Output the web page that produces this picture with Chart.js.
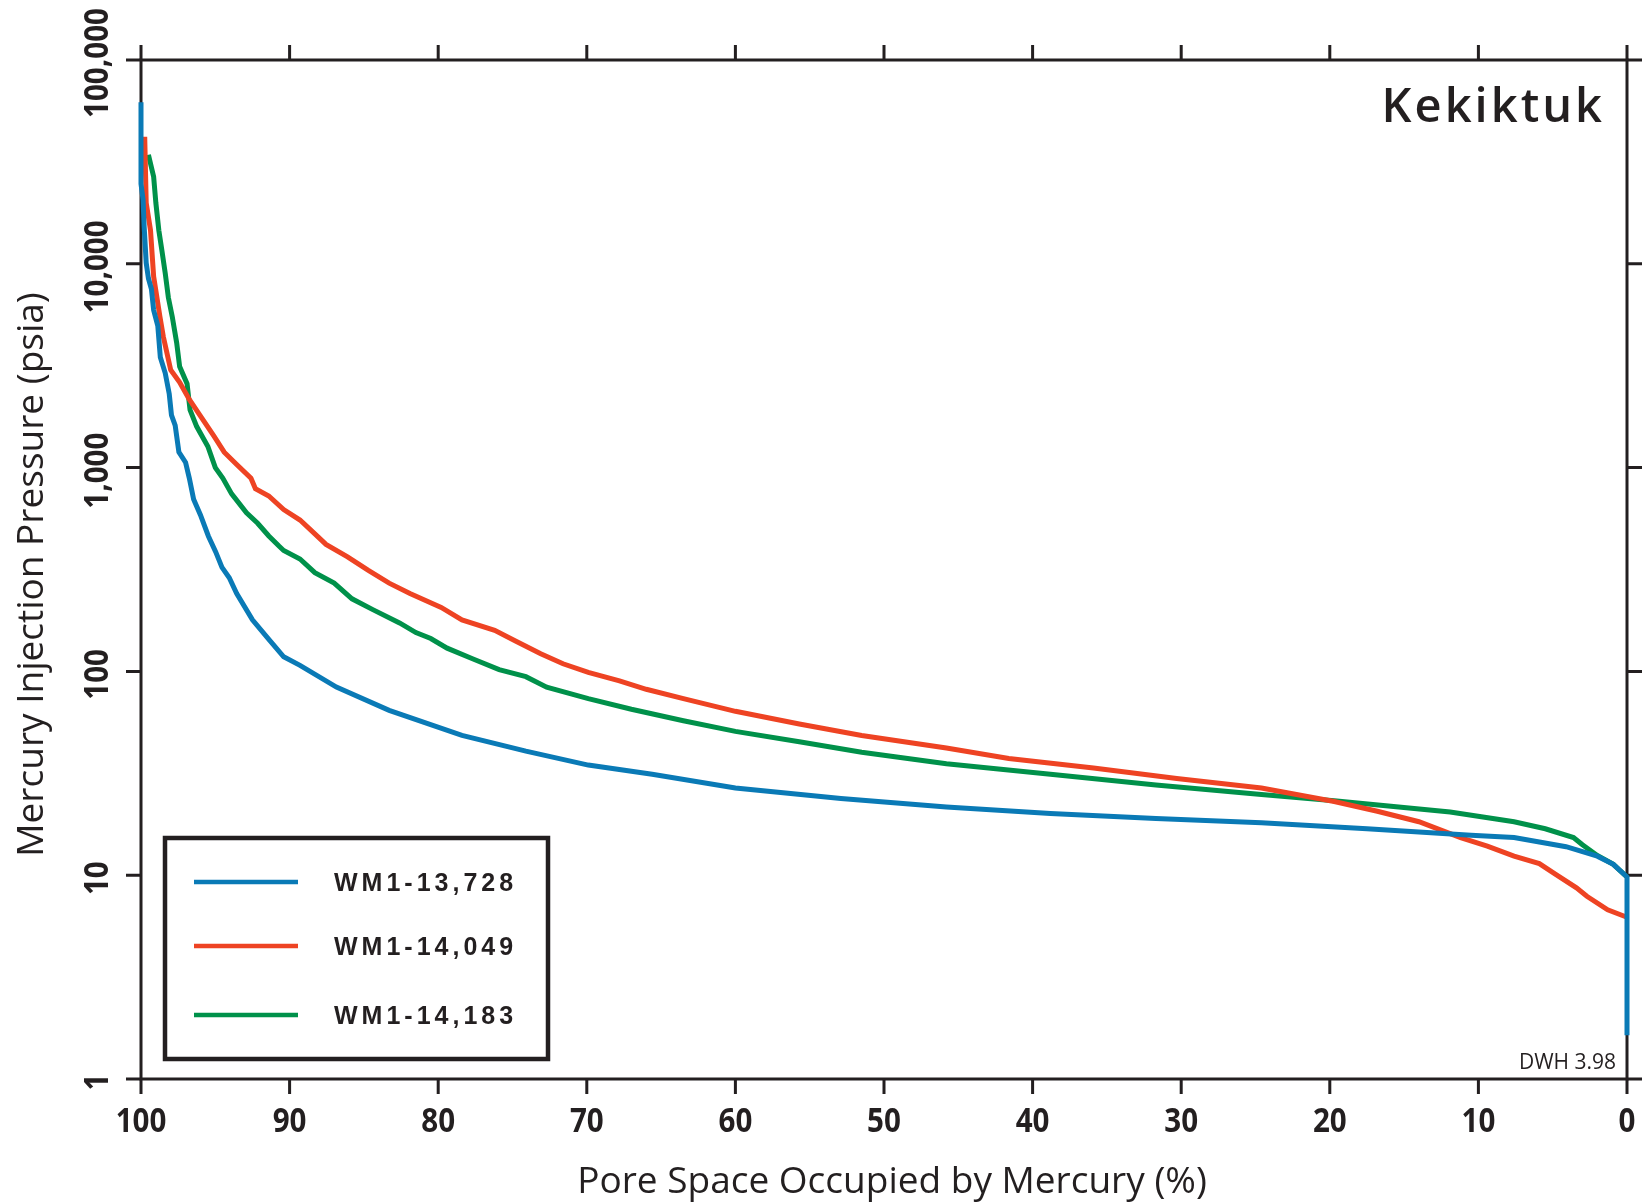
<!DOCTYPE html>
<html>
<head>
<meta charset="utf-8">
<script src="https://cdn.jsdelivr.net/npm/chart.js@4.4.1/dist/chart.umd.min.js"></script>
<style>
  html, body { margin: 0; padding: 0; background: #fff; }
  #wrap { width: 1648px; height: 1203px; }
</style>
</head>
<body>
<div id="wrap"><canvas id="chart" width="1648" height="1203"></canvas></div>
<script>
// sample names, in legend order
const seriesNames = ["WM1-13,728", "WM1-14,049", "WM1-14,183"];
const seriesColors = ["#0a7ab6", "#ee4323", "#00914a"];

// WM1-13,728 (blue)
const blueSat = [100, 100, 99.86, 99.79, 99.65, 99.5, 99.3, 99.15, 98.87, 98.7, 98.37, 98.1, 97.95, 97.7, 97.45, 97.0, 96.75, 96.46, 96.0, 95.47, 94.98, 94.55, 94.06, 93.56, 92.5, 91.44, 90.4, 89.3, 86.85, 83.3, 78.4, 74.1, 69.9, 65.6, 60.0, 52.9, 45.8, 38.8, 31.7, 24.6, 17.5, 10.5, 7.6, 4.1, 2.0, 0.92, 0, 0];
const bluePsia = [62000, 24700, 20600, 15300, 10100, 8470, 7520, 5930, 4960, 3480, 2910, 2300, 1810, 1610, 1190, 1060, 888, 700, 586, 462, 387, 324, 288, 241, 179, 145, 118, 107, 83.7, 64.4, 48.5, 40.6, 34.7, 31.3, 26.8, 23.8, 21.6, 20.1, 19.0, 18.1, 16.9, 15.7, 15.3, 13.8, 12.4, 11.3, 9.8, 1.64];

// WM1-14,049 (red)
const redSat = [99.75, 99.65, 99.36, 99.15, 98.73, 98.5, 98.0, 97.4, 96.75, 96.04, 95.1, 94.4, 93.56, 92.6, 92.3, 91.4, 90.4, 89.3, 88.3, 87.55, 86.1, 84.7, 83.3, 81.9, 79.8, 78.4, 76.2, 74.8, 73.1, 71.6, 69.9, 67.8, 66.0, 63.5, 60.0, 55.7, 51.5, 45.8, 41.6, 35.9, 30.3, 24.6, 19.7, 16.8, 14.0, 11.2, 9.4, 7.6, 5.9, 4.8, 3.4, 2.7, 1.3, 0];
const redPsia = [42000, 19900, 14600, 8670, 5520, 4400, 3010, 2620, 2160, 1810, 1430, 1190, 1035, 887, 788, 726, 622, 553, 473, 420, 365, 313, 271, 241, 206, 179, 159, 141, 122, 109, 98.8, 89.9, 81.7, 73.5, 63.7, 55.2, 48.5, 42.1, 37.4, 33.6, 29.8, 26.8, 23.0, 20.6, 18.3, 15.3, 13.9, 12.4, 11.4, 10.1, 8.67, 7.88, 6.76, 6.22];

// WM1-14,183 (green)
const greenSat = [99.5, 99.15, 99.0, 98.8, 98.6, 98.37, 98.16, 97.9, 97.6, 97.4, 96.9, 96.7, 96.25, 95.5, 95.0, 94.5, 93.9, 92.9, 92.15, 91.4, 90.7, 90.4, 89.3, 88.3, 87.0, 85.8, 84.4, 82.6, 81.5, 80.5, 79.4, 77.65, 75.9, 74.1, 72.7, 69.9, 67.0, 63.5, 60.0, 55.7, 51.5, 45.8, 38.8, 31.7, 24.6, 19.7, 11.9, 7.6, 5.5, 3.6, 3.0, 2.0, 0.92, 0];
const greenPsia = [34300, 26800, 19900, 14600, 11700, 9000, 6840, 5520, 4100, 3130, 2580, 1920, 1590, 1270, 1000, 888, 743, 600, 533, 462, 411, 392, 356, 305, 271, 227, 201, 173, 155, 145, 130, 115, 102, 94.2, 83.7, 73.5, 65.2, 57.3, 50.8, 45.2, 40.1, 35.2, 31.3, 27.7, 24.9, 23.2, 20.4, 18.3, 16.9, 15.3, 14.1, 12.5, 11.3, 9.8];

const xTicks = [100, 90, 80, 70, 60, 50, 40, 30, 20, 10, 0];
const yTicks = [1, 10, 100, 1000, 10000, 100000];
const yTickLabels = ["1", "10", "100", "1,000", "10,000", "100,000"];

const xTitle = "Pore Space Occupied by Mercury (%)";
const yTitle = "Mercury Injection Pressure (psia)";
const formationName = "Kekiktuk";
const creditNote = "DWH 3.98";

const toPoints = (xs, ys) => xs.map((v, i) => ({ x: v, y: ys[i] }));
const allSeries = [toPoints(blueSat, bluePsia), toPoints(redSat, redPsia), toPoints(greenSat, greenPsia)];

const INK = "#231f20";
const TICK_FONT = 'bold 34px "Open Sans", "Noto Sans", sans-serif';
const TITLE_FONT = '37px "Open Sans", "Noto Sans", sans-serif';

// squeezed text, a stand-in for the condensed face of the original
function narrowText(ctx, text, x, y, rot, squeeze) {
  ctx.save();
  ctx.translate(x, y);
  ctx.rotate(rot);
  ctx.scale(squeeze, 1);
  ctx.fillText(text, 0, 0);
  ctx.restore();
}

// axes frame + ticks + labels, drawn under the curves
const framePlugin = {
  id: "frame",
  beforeDatasetsDraw(chart) {
    const { ctx, chartArea: a, scales: { x, y } } = chart;
    const t = 15;
    ctx.save();
    ctx.strokeStyle = INK;
    ctx.lineWidth = 3;
    ctx.lineCap = "butt";
    ctx.strokeRect(a.left, a.top, a.right - a.left, a.bottom - a.top);

    ctx.beginPath();
    xTicks.forEach((v) => {
      const px = x.getPixelForValue(v);
      ctx.moveTo(px, a.bottom); ctx.lineTo(px, a.bottom + t);
      ctx.moveTo(px, a.top); ctx.lineTo(px, a.top - t);
    });
    yTicks.forEach((v) => {
      const py = y.getPixelForValue(v);
      ctx.moveTo(a.left - t, py); ctx.lineTo(a.left, py);
      ctx.moveTo(a.right, py); ctx.lineTo(a.right + t, py);
    });
    ctx.stroke();

    // tick labels
    ctx.fillStyle = INK;
    ctx.font = TICK_FONT;
    ctx.textAlign = "center";
    ctx.textBaseline = "middle";
    xTicks.forEach((v) => {
      narrowText(ctx, String(v), x.getPixelForValue(v), a.bottom + 43, 0, 0.87);
    });
    yTicks.forEach((v, i) => {
      narrowText(ctx, yTickLabels[i], a.left - 43, y.getPixelForValue(v) + 3, -Math.PI / 2, 0.87);
    });

    // axis titles
    ctx.font = TITLE_FONT;
    ctx.fillText(xTitle, (a.left + a.right) / 2 + 8, 1182);
    ctx.save();
    ctx.translate(32, (a.top + a.bottom) / 2 + 5);
    ctx.rotate(-Math.PI / 2);
    ctx.fillText(yTitle, 0, 0);
    ctx.restore();

    // formation name and credit
    ctx.textAlign = "right";
    ctx.textBaseline = "alphabetic";
    ctx.font = '600 47px "Open Sans", "Noto Sans", sans-serif';
    ctx.letterSpacing = "3px";
    ctx.fillText(formationName, 1605, 122);
    ctx.letterSpacing = "0px";
    ctx.font = '21px "Open Sans", "Noto Sans", sans-serif';
    ctx.fillText(creditNote, 1616, 1069);
    ctx.restore();
  }
};

// boxed legend in the lower left
const legendPlugin = {
  id: "boxLegend",
  afterDraw(chart) {
    const { ctx } = chart;
    const rows = [882, 946, 1015];
    ctx.save();
    ctx.fillStyle = "#fff";
    ctx.fillRect(165, 838, 383, 221);
    ctx.strokeStyle = INK;
    ctx.lineWidth = 4.5;
    ctx.strokeRect(165, 838, 383, 221);
    seriesNames.forEach((name, i) => {
      ctx.strokeStyle = seriesColors[i];
      ctx.lineWidth = 4.5;
      ctx.beginPath();
      ctx.moveTo(194, rows[i]);
      ctx.lineTo(298, rows[i]);
      ctx.stroke();
      ctx.fillStyle = INK;
      ctx.font = 'bold 25px "Liberation Sans", Arial, sans-serif';
      ctx.letterSpacing = "4px";
      ctx.textAlign = "left";
      ctx.textBaseline = "middle";
      ctx.fillText(name, 334, rows[i] + 2);
    });
    ctx.restore();
  }
};

new Chart(document.getElementById("chart").getContext("2d"), {
  type: "line",
  data: {
    datasets: seriesNames.map((name, i) => ({
      label: name,
      data: allSeries[i],
      borderColor: seriesColors[i],
      borderWidth: 5,
      pointRadius: 0,
      tension: 0,
      fill: false,
      clip: false,
      order: i // blue on top, green underneath
    }))
  },
  options: {
    responsive: false,
    animation: false,
    layout: { padding: { left: 141, top: 60, right: 21, bottom: 124 } },
    plugins: { legend: { display: false }, tooltip: { enabled: false } },
    scales: {
      x: { type: "linear", reverse: true, min: 0, max: 100, display: false },
      y: { type: "logarithmic", min: 1, max: 100000, display: false }
    }
  },
  plugins: [framePlugin, legendPlugin]
});
</script>
</body>
</html>
